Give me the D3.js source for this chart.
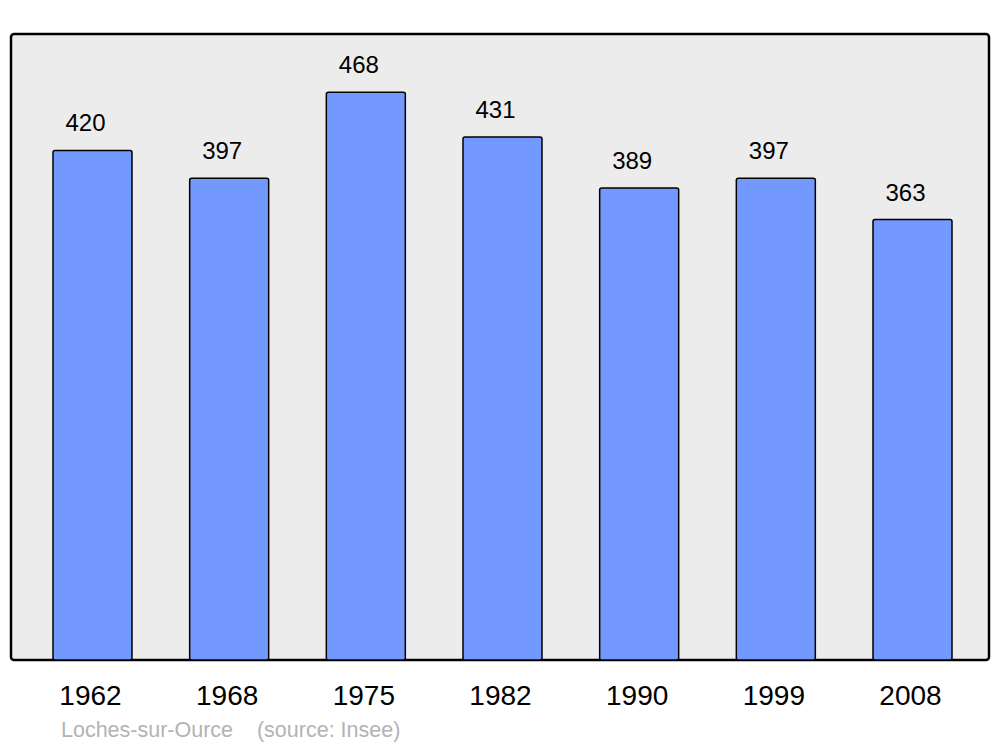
<!DOCTYPE html>
<html>
<head>
<meta charset="utf-8">
<script src="https://cdn.jsdelivr.net/npm/d3@7"></script>
<style>
body{margin:0;background:#fff;}
text{font-family:"Liberation Sans",Arial,sans-serif;}
</style>
</head>
<body>
<svg id="chart" width="1000" height="747"></svg>
<script>
const years = ["1962","1968","1975","1982","1990","1999","2008"];
const population = [420,397,468,431,389,397,363];
const caption = "Loches-sur-Ource    (source: Insee)";

const svg = d3.select("#chart");
const frame = {x0:11, x1:989, y0:34, y1:660};

svg.append("rect")
  .attr("x",frame.x0).attr("y",frame.y0)
  .attr("width",frame.x1-frame.x0).attr("height",frame.y1-frame.y0)
  .attr("rx",3).attr("fill","#ececec").attr("stroke","#000").attr("stroke-width",2.5);

const x = d3.scaleBand().domain(years).range([53,952]).paddingInner(0.422).paddingOuter(0);
const y = d3.scaleLinear().domain([0,516]).range([frame.y1,frame.y0]);

const data = years.map((yr,i)=>({year:yr,value:population[i]}));

svg.append("g").selectAll("rect").data(data).join("rect")
  .attr("x",d=>x(d.year)).attr("y",d=>y(d.value))
  .attr("width",x.bandwidth()).attr("height",d=>y(0)-y(d.value))
  .attr("rx",2)
  .attr("fill","#7399ff").attr("stroke","#000").attr("stroke-width",1.5);

svg.append("g").selectAll("text").data(data).join("text")
  .attr("x",d=>x(d.year)+x.bandwidth()/2-7)
  .attr("y",d=>y(d.value)-19)
  .attr("text-anchor","middle").attr("font-size",24).attr("fill","#000")
  .text(d=>d.value);

const xAxis = d3.axisBottom(x).tickSize(0).tickPadding(0);
const ax = svg.append("g").attr("transform",`translate(-2,${705})`).call(xAxis);
ax.select(".domain").remove();
ax.selectAll("text").attr("font-size",28).attr("fill","#000").attr("dy",0)
  .style("font-family","'Liberation Sans',Arial,sans-serif");

svg.append("text").attr("x",61).attr("y",737)
  .attr("font-size",21.5).attr("fill","#b3b3b3")
  .attr("xml:space","preserve")
  .text(caption);
</script>
</body>
</html>
